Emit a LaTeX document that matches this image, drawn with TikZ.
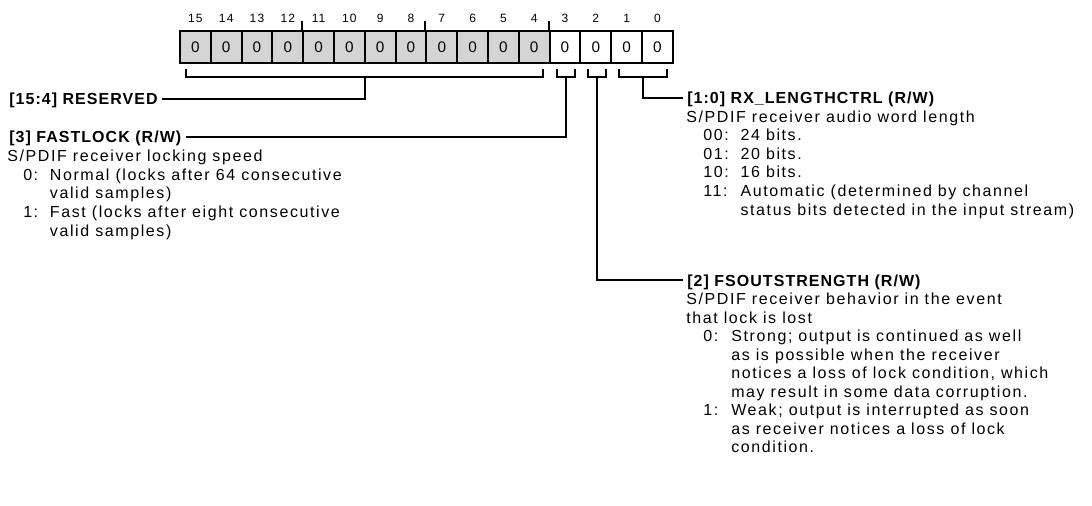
\documentclass[tikz,border=0pt]{standalone}
\usepackage{fontspec}
\setmainfont{Liberation Sans}
\newfontfamily\descfont[LetterSpace=10]{Liberation Sans}
\newfontfamily\headfont[LetterSpace=6.5]{Liberation Sans}
\definecolor{cellgray}{RGB}{212,212,212}
\tikzset{
  desc/.style={anchor=base west, inner sep=0pt, font=\descfont\fontsize{12pt}{14pt}\selectfont},
  head/.style={anchor=base west, inner sep=0pt, text height=8.5pt, text depth=0pt,
               font=\headfont\bfseries\fontsize{12pt}{14pt}\selectfont},
  conn/.style={line width=1.5pt},
  bitnum/.style={inner sep=0pt, font=\descfont\fontsize{9pt}{10pt}\selectfont},
  cell/.style={draw, line width=1.5pt, minimum width=23.1pt, minimum height=24pt,
               inner sep=0pt, font=\descfont\fontsize{11.5pt}{13pt}\selectfont},
}
\newcommand{\lab}[2]{\makebox[#1][l]{#2}}
\begin{document}
\begin{tikzpicture}[x=0.75pt,y=-0.75pt]
\useasboundingbox (0,0) rectangle (1092,506);
% register cells
\foreach \i in {0,...,15}{
  \pgfmathsetmacro{\cx}{180+(15-\i)*30.8+15.4}
  \ifnum\i>3
    \node[cell, fill=cellgray] (c\i) at (\cx,47) {0};
  \else
    \node[cell, fill=white] (c\i) at (\cx,47) {0};
  \fi
  \node[bitnum] (n\i) at (\cx,18) {\i};
}
% ticks above
\draw[conn] (c11.north west) -- ++(0,-9);
\draw[conn] (c7.north west) -- ++(0,-9);
\draw[conn] (c3.north west) -- ++(0,-9);

% brackets
\coordinate (r1) at (186,69); \coordinate (r2) at (543,69);
\coordinate (resmid) at (365,77);
\draw[conn] (r1) -- (186,77) -- (543,77) -- (r2);
\coordinate (f1) at (557,69); \coordinate (f2) at (575,69);
\coordinate (fmid) at (566,77);
\draw[conn] (f1) -- (557,77) -- (575,77) -- (f2);
\coordinate (s1) at (588,69); \coordinate (s2) at (606,69);
\coordinate (smid) at (597,77);
\draw[conn] (s1) -- (588,77) -- (606,77) -- (s2);
\coordinate (x1) at (619,69); \coordinate (x2) at (667,69);
\coordinate (xmid) at (643,77);
\draw[conn] (x1) -- (619,77) -- (667,77) -- (x2);

% RESERVED
\node[head] (restitle) at (9,105) {[15:4] RESERVED};
\draw[conn] (resmid) |- ([xshift=3pt]restitle.east);

% FASTLOCK
\node[head] (fltitle) at (9,143) {[3] FASTLOCK (R/W)};
\draw[conn] (fmid) |- ([xshift=3pt]fltitle.east);
\node[desc] (fl1) at (7,162) {S/PDIF receiver locking speed};
\node[desc] (fl2) at (23,180.5) {\lab{20pt}{0:}Normal (locks after 64 consecutive};
\node[desc] (fl3) at (49.7,199) {valid samples)};
\node[desc] (fl4) at (23,217.5) {\lab{20pt}{1:}Fast (locks after eight consecutive};
\node[desc] (fl5) at (49.7,236) {valid samples)};

% RX_LENGTHCTRL
\node[head] (rxtitle) at (687,104) {[1:0] RX\_LENGTHCTRL (R/W)};
\draw[conn] (xmid) |- ([xshift=-3pt]rxtitle.west);
\node[desc] (rx1) at (686,122.5) {S/PDIF receiver audio word length};
\node[desc] (rx2) at (703,141) {\lab{28pt}{00:}24 bits.};
\node[desc] (rx3) at (703,159.5) {\lab{28pt}{01:}20 bits.};
\node[desc] (rx4) at (703,178) {\lab{28pt}{10:}16 bits.};
\node[desc] (rx5) at (703,196.5) {\lab{28pt}{11:}Automatic (determined by channel};
\node[desc] (rx6) at (740.3,215) {status bits detected in the input stream)};

% FSOUTSTRENGTH
\node[head] (fstitle) at (687,286) {[2] FSOUTSTRENGTH (R/W)};
\draw[conn] (smid) |- ([xshift=-3pt]fstitle.west);
\node[desc] (fs1) at (686,304.5) {S/PDIF receiver behavior in the event};
\node[desc] (fs2) at (686,323) {that lock is lost};
\node[desc] (fs3) at (703,341.5) {\lab{21pt}{0:}Strong; output is continued as well};
\node[desc] (fs4) at (731,360) {as is possible when the receiver};
\node[desc] (fs5) at (731,378.5) {notices a loss of lock condition, which};
\node[desc] (fs6) at (731,397) {may result in some data corruption.};
\node[desc] (fs7) at (703,415.5) {\lab{21pt}{1:}Weak; output is interrupted as soon};
\node[desc] (fs8) at (731,434) {as receiver notices a loss of lock};
\node[desc] (fs9) at (731,452.5) {condition.};
\end{tikzpicture}
\end{document}
